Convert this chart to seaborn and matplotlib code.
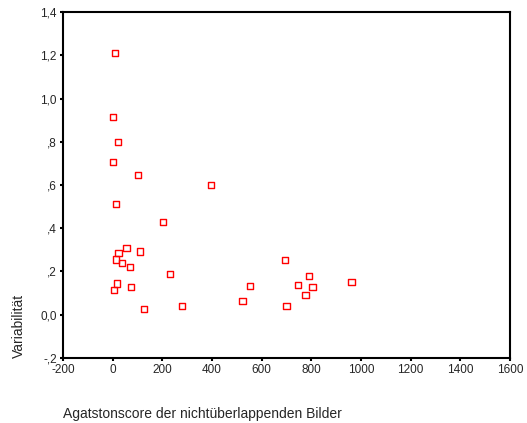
import matplotlib
matplotlib.use("Agg")
import matplotlib.pyplot as plt
import seaborn as sns
import pandas as pd
from matplotlib.ticker import FuncFormatter, MultipleLocator

score = [9, 1, 21, 0, 102, 13, 396, 203, 56, 24, 111, 14, 37, 70, 232, 16, 5, 74,
         126, 279, 523, 552, 695, 792, 745, 805, 777, 962, 700]
variab = [1.21, 0.914, 0.80, 0.706, 0.646, 0.512, 0.60, 0.428, 0.307, 0.287, 0.292,
          0.255, 0.238, 0.222, 0.190, 0.144, 0.116, 0.127, 0.025, 0.042, 0.064, 0.132,
          0.253, 0.179, 0.138, 0.127, 0.090, 0.153, 0.042]

df = pd.DataFrame({"score": score, "var": variab})

sns.set_theme(style="white")
plt.rcParams['font.family'] = ['Liberation Sans', 'DejaVu Sans']
plt.rcParams['axes.unicode_minus'] = False

fig = plt.figure(figsize=(5.27, 4.23), dpi=100)
ax = fig.add_axes([0.1195, 0.1537, 0.8482, 0.8179])

sns.scatterplot(data=df, x="score", y="var", ax=ax, marker="s", s=20,
                facecolor="none", edgecolor="#ff0000", linewidth=1.0, legend=False)

ax.set_xlim(-200, 1600)
ax.set_ylim(-0.2, 1.4)
ax.xaxis.set_major_locator(MultipleLocator(200))
ax.yaxis.set_major_locator(MultipleLocator(0.2))

def yfmt(v, pos):
    s = f"{v:.1f}".replace(".", ",")
    if s.startswith("0,") and abs(v) > 1e-9:
        s = s[1:]
    elif s.startswith("-0,"):
        s = "-" + s[2:]
    return s

ax.yaxis.set_major_formatter(FuncFormatter(yfmt))
ax.tick_params(axis="both", direction="out", length=2.5, width=1.5, color="black",
               labelsize=8.5, pad=2, bottom=True, left=True)
for sp in ax.spines.values():
    sp.set_color("black")
    sp.set_linewidth(1.5)

ax.set_xlabel("Agatstonscore der nichtüberlappenden Bilder", fontsize=10, labelpad=22, loc="left")
ax.set_ylabel("Variabilität", fontsize=10, labelpad=10, loc="bottom")
ax.grid(False)

fig.savefig("out.png", dpi=100)
